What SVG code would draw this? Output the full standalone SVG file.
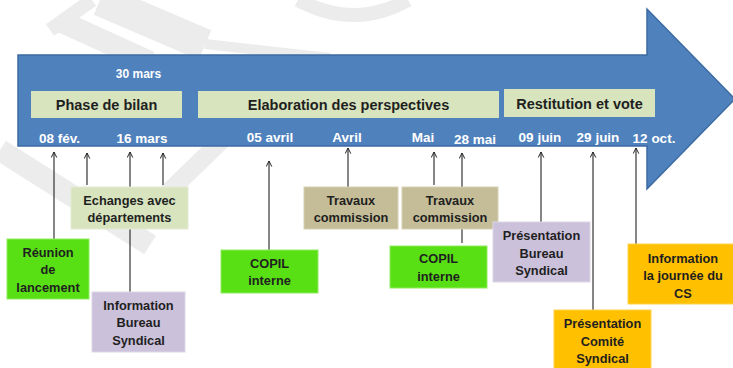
<svg xmlns="http://www.w3.org/2000/svg" width="733" height="368" viewBox="0 0 733 368">
  <style>
    .wm { fill: none; stroke: #ececec; stroke-linecap: butt; }
    .phase { fill: #d7e4bd; }
    .ptxt { font-family: "Liberation Sans", Arial, sans-serif; font-weight: bold; font-size: 14.5px; fill: #1f1f1f; text-anchor: middle; }
    .date { font-family: "Liberation Sans", Arial, sans-serif; font-weight: bold; font-size: 13.5px; fill: #ffffff; text-anchor: middle; }
    .btxt { font-family: "Liberation Sans", Arial, sans-serif; font-weight: bold; font-size: 12.8px; fill: #1f1f1f; text-anchor: middle; }
    .green { fill: #58e015; stroke: #8fec60; stroke-width: 1; }
    .lav { fill: #ccc1da; stroke: #ddd6e6; stroke-width: 1; }
    .tan { fill: #c4bd97; stroke: #d6d1b6; stroke-width: 1; }
    .lgreen { fill: #d7e4bd; stroke: #e4ecd3; stroke-width: 1; }
    .orange { fill: #ffc000; stroke: #ffd24d; stroke-width: 1; }
    .conn line { stroke: #222222; stroke-width: 1.1; fill: none; }
    .conn line.up { marker-start: url(#up); }
  </style>
  <defs>
    <marker id="up" viewBox="0 0 10 10" refX="5" refY="1" markerWidth="7" markerHeight="7" markerUnits="userSpaceOnUse" orient="0">
      <path d="M1,9 L5,1 L9,9" fill="none" stroke="#222222" stroke-width="1.4"/>
    </marker>
  </defs>
  <rect width="733" height="368" fill="#ffffff"/>
  <!-- watermark -->
  <g id="watermark">
    <path class="wm" d="M50,30 L92,0" stroke-width="14"/>
    <path class="wm" d="M62,22 L150,62" stroke-width="22"/>
    <path class="wm" d="M100,0 L205,45" stroke-width="32"/>
    <path class="wm" d="M205,44 L330,58" stroke-width="10"/>
    <path class="wm" d="M298,0 Q355,30 408,0" stroke-width="14"/>
    <path class="wm" d="M0,150 L150,245" stroke-width="22"/>
    <path class="wm" d="M222,140 L150,210" stroke-width="18"/>
  </g>
  <!-- main arrow -->
  <g id="timeline-arrow">
    <path d="M18,55 L647,55 L647,9 L735,99 L647,189 L647,146 L18,146 Z" fill="#4f81bd" stroke="#3c6ba3" stroke-width="1.5"/>
  </g>
  <g id="phase-bilan">
    <rect class="phase" x="31" y="91" width="151" height="27"/>
    <text class="ptxt" x="106.5" y="110">Phase de bilan</text>
  </g>
  <g id="phase-elaboration">
    <rect class="phase" x="198" y="91" width="301" height="27"/>
    <text class="ptxt" x="348.5" y="110">Elaboration des perspectives</text>
  </g>
  <g id="phase-restitution">
    <rect class="phase" x="504" y="89" width="151" height="28"/>
    <text class="ptxt" x="579.5" y="109">Restitution et vote</text>
  </g>
  <g id="dates">
    <text class="date" x="138.5" y="78" style="font-size:12px">30 mars</text>
    <text class="date" x="59.5" y="143">08 fév.</text>
    <text class="date" x="142" y="143">16 mars</text>
    <text class="date" x="270" y="142">05 avril</text>
    <text class="date" x="347" y="142">Avril</text>
    <text class="date" x="423" y="142">Mai</text>
    <text class="date" x="475" y="144">28 mai</text>
    <text class="date" x="540" y="142">09 juin</text>
    <text class="date" x="598" y="142">29 juin</text>
    <text class="date" x="654" y="143">12 oct.</text>
  </g>
  <!-- connectors -->
  <g id="connectors" class="conn">
    <line class="up" x1="54" y1="152" x2="54" y2="239"/>
    <line class="up" x1="87" y1="153" x2="87" y2="185"/>
    <line class="up" x1="130" y1="152" x2="130" y2="187"/>
    <line x1="130" y1="229" x2="130" y2="292"/>
    <line class="up" x1="163" y1="153" x2="163" y2="185"/>
    <line class="up" x1="269" y1="161" x2="269" y2="250"/>
    <line class="up" x1="348" y1="148" x2="348" y2="187"/>
    <line class="up" x1="434" y1="152" x2="434" y2="185"/>
    <line class="up" x1="462" y1="153" x2="462" y2="187"/>
    <line x1="462" y1="229" x2="462" y2="243"/>
    <line class="up" x1="541" y1="152" x2="541" y2="222"/>
    <line class="up" x1="593" y1="152" x2="593" y2="310"/>
    <line class="up" x1="636" y1="148" x2="636" y2="244"/>
  </g>
  <!-- nodes -->
  <g id="echanges">
    <rect class="lgreen" x="71" y="187" width="117" height="42"/>
    <text class="btxt" x="129.5" y="204.5">Echanges avec</text>
    <text class="btxt" x="129.5" y="222">départements</text>
  </g>
  <g id="reunion">
    <rect class="green" x="7" y="239" width="82" height="60"/>
    <text class="btxt" x="48" y="256.5">Réunion</text>
    <text class="btxt" x="48" y="274">de</text>
    <text class="btxt" x="48" y="291.5">lancement</text>
  </g>
  <g id="info-bureau">
    <rect class="lav" x="92" y="292" width="93" height="60"/>
    <text class="btxt" x="138.5" y="309.5">Information</text>
    <text class="btxt" x="138.5" y="327">Bureau</text>
    <text class="btxt" x="138.5" y="344.5">Syndical</text>
  </g>
  <g id="copil-1">
    <rect class="green" x="221" y="250" width="97" height="43"/>
    <text class="btxt" x="269.5" y="267.5">COPIL</text>
    <text class="btxt" x="269.5" y="285">interne</text>
  </g>
  <g id="travaux-1">
    <rect class="tan" x="304" y="187" width="94" height="42"/>
    <text class="btxt" x="351" y="204.5">Travaux</text>
    <text class="btxt" x="351" y="222">commission</text>
  </g>
  <g id="travaux-2">
    <rect class="tan" x="402" y="187" width="96" height="42"/>
    <text class="btxt" x="450" y="204.5">Travaux</text>
    <text class="btxt" x="450" y="222">commission</text>
  </g>
  <g id="copil-2">
    <rect class="green" x="390" y="246" width="97" height="42"/>
    <text class="btxt" x="438.5" y="263">COPIL</text>
    <text class="btxt" x="438.5" y="280.5">interne</text>
  </g>
  <g id="presentation-bureau">
    <rect class="lav" x="493" y="222" width="97" height="60"/>
    <text class="btxt" x="541.5" y="240">Présentation</text>
    <text class="btxt" x="541.5" y="257.5">Bureau</text>
    <text class="btxt" x="541.5" y="275">Syndical</text>
  </g>
  <g id="presentation-comite">
    <rect class="orange" x="554" y="310" width="97" height="62"/>
    <text class="btxt" x="602.5" y="328">Présentation</text>
    <text class="btxt" x="602.5" y="345.5">Comité</text>
    <text class="btxt" x="602.5" y="363">Syndical</text>
  </g>
  <g id="information-cs">
    <rect class="orange" x="628" y="244" width="110" height="60"/>
    <text class="btxt" x="683" y="262.5">Information</text>
    <text class="btxt" x="683" y="280">la journée du</text>
    <text class="btxt" x="683" y="297.5">CS</text>
  </g>
</svg>
